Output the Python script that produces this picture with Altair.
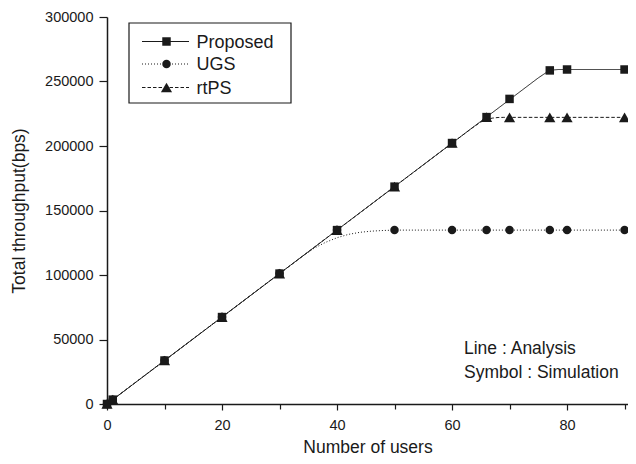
import altair as alt
import pandas as pd

FONT = "Liberation Sans"
INK = "#1a1a1a"

series_names = ["Proposed", "UGS", "rtPS"]

# Simulation points (symbols)
proposed_x = [0, 1, 10, 20, 30, 40, 50, 60, 66, 70, 77, 80, 90]
proposed_y = [0, 3370, 33700, 67400, 101100, 134800, 168500, 202300, 222400, 236500, 258600, 259300, 259300]

ugs_x = [0, 1, 10, 20, 30, 40, 50, 60, 66, 70, 77, 80, 90]
ugs_y = [0, 3370, 33700, 67400, 101100, 134800, 134800, 134800, 134800, 134800, 134800, 134800, 134800]

rtps_x = [0, 1, 10, 20, 30, 40, 50, 60, 66, 70, 77, 80, 90]
rtps_y = [0, 3370, 33700, 67400, 101100, 134800, 168500, 202300, 222400, 222200, 222200, 222200, 222200]

# Analysis curves (lines)
proposed_line_x = [0, 75, 76.5, 77.5, 78.5, 90]
proposed_line_y = [0, 252800, 257300, 258900, 259300, 259300]

ugs_line_x = [0, 34, 36, 38, 40, 42, 44, 46, 48, 50, 90]
ugs_line_y = [0, 114600, 120700, 125300, 128900, 131500, 133100, 134000, 134500, 134800, 134800]

rtps_line_x = [0, 63.5, 65, 66, 67, 68, 69, 90]
rtps_line_y = [0, 214000, 218600, 220600, 221600, 222100, 222200, 222200]

annotation_lines = ["Line : Analysis", "Symbol : Simulation"]

x_ticks = list(range(0, 91, 10))
y_ticks = list(range(0, 300001, 25000))

# ---- data frames ----
pts = {
    "UGS": pd.DataFrame({"users": ugs_x, "thr": ugs_y, "series": "UGS"}),
    "rtPS": pd.DataFrame({"users": rtps_x, "thr": rtps_y, "series": "rtPS"}),
    "Proposed": pd.DataFrame({"users": proposed_x, "thr": proposed_y, "series": "Proposed"}),
}

lines = pd.concat([
    pd.DataFrame({"users": ugs_line_x, "thr": ugs_line_y, "series": "UGS"}),
    pd.DataFrame({"users": rtps_line_x, "thr": rtps_line_y, "series": "rtPS"}),
    pd.DataFrame({"users": proposed_line_x, "thr": proposed_line_y, "series": "Proposed"}),
], ignore_index=True)

dash_range = [[1, 0], [1, 2], [3.5, 2]]
shape_range = ["square", "circle", "triangle-up"]
size_range = [72, 72, 125]

x_enc = alt.X(
    "users:Q",
    scale=alt.Scale(domain=[0, 90.6], nice=False, zero=False),
    axis=alt.Axis(
        title="Number of users", values=x_ticks,
        labelExpr="datum.value % 20 === 0 ? datum.label : ''",
        tickSize={"expr": "datum.value % 20 === 0 ? 6 : 5"},
        labelPadding=8, titlePadding=7, labelFlush=False,
    ),
)
y_enc = alt.Y(
    "thr:Q",
    scale=alt.Scale(domain=[0, 300000], nice=False),
    axis=alt.Axis(
        title="Total throughput(bps)", values=y_ticks, format="d",
        labelExpr="datum.value % 50000 === 0 ? datum.label : ''",
        tickSize={"expr": "datum.value % 50000 === 0 ? 8 : 5"},
        labelPadding=6, titlePadding=16, labelFlush=False,
    ),
)

line_layer = alt.Chart(lines).mark_line(strokeWidth=1, color=INK).encode(
    x=x_enc, y=y_enc,
    detail="series:N",
    strokeDash=alt.StrokeDash("series:N", scale=alt.Scale(domain=series_names, range=dash_range), legend=None),
)

layers = [line_layer]
for name in ["UGS", "rtPS", "Proposed"]:
    i = series_names.index(name)
    layers.append(alt.Chart(pts[name]).mark_point(
        filled=True, opacity=1, color=INK, shape=shape_range[i], size=size_range[i]
    ).encode(x="users:Q", y="thr:Q"))

# ---- manual legend (line + symbol samples) ----
legend_box = alt.Chart(pd.DataFrame({"k": [0]})).mark_rect(
    fill="white", stroke=INK, strokeWidth=1.2
).encode(x=alt.value(22), x2=alt.value(184), y=alt.value(6), y2=alt.value(86))
layers.append(legend_box)

row_y = [24.5, 47, 70.5]
for i, name in enumerate(series_names):
    d = pd.DataFrame({"series": [name]})
    layers.append(alt.Chart(d).mark_rule(strokeWidth=1, color=INK, strokeDash=dash_range[i]).encode(
        x=alt.value(35), x2=alt.value(82), y=alt.value(row_y[i])))
    layers.append(alt.Chart(d).mark_point(filled=True, opacity=1, color=INK,
                                           shape=shape_range[i], size=size_range[i]).encode(
        x=alt.value(59.5), y=alt.value(row_y[i])))
    layers.append(alt.Chart(d).mark_text(align="left", baseline="middle", font=FONT,
                                          fontSize=18, color=INK).encode(
        x=alt.value(89.5), y=alt.value(row_y[i] + 1), text="series:N"))

# ---- annotation ----
note = alt.Chart(pd.DataFrame({"k": [0]})).mark_text(
    align="left", baseline="middle", font=FONT, fontSize=17.5, color=INK, lineHeight=24
).encode(x=alt.value(357), y=alt.value(332), text=alt.value(annotation_lines))
layers.append(note)

chart = alt.layer(*layers).properties(
    width=521, height=387,
    padding={"left": 99, "top": 9, "right": 0, "bottom": 52},
    autosize=alt.AutoSizeParams(type="none"),
).configure_view(stroke=None).configure_axis(
    grid=False, domainColor=INK, domainWidth=1.5, tickColor=INK, tickWidth=1.2,
    labelFont=FONT, labelFontSize=14.5, labelColor=INK,
    titleFont=FONT, titleFontSize=17.5, titleFontWeight="normal", titleColor=INK,
)

chart.save("out.html", embed_options={"renderer": "svg", "actions": False})
